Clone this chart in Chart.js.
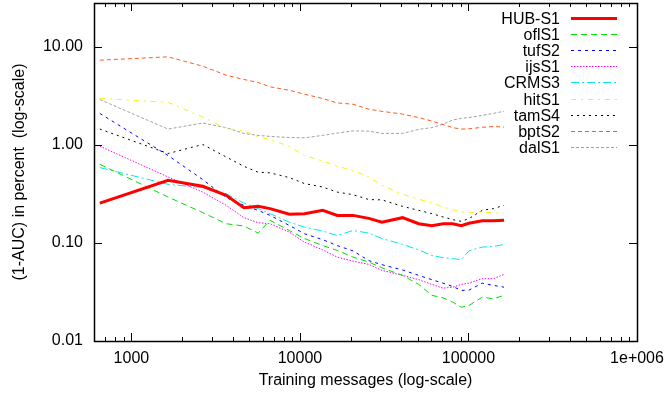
<!DOCTYPE html>
<html>
<head>
<meta charset="utf-8">
<script src="https://cdn.jsdelivr.net/npm/chart.js@4.4.1/dist/chart.umd.min.js"></script>
<style>
  html, body { margin: 0; padding: 0; background: #fff; }
  #wrap { width: 664px; height: 394px; }
</style>
</head>
<body>
<div id="wrap"><canvas id="chart" width="664" height="394"></canvas></div>
<script>
// ── data
const xMessages = [650, 1650, 2650, 3650, 4650, 5650, 6650, 8650, 10650, 13650, 16650, 20650,
  25650, 30650, 40650, 50650, 60650, 70650, 80650, 90650, 100650, 120650, 140650, 162650];

const hubS1  = [0.255, 0.436, 0.378, 0.306, 0.229, 0.236, 0.224, 0.196, 0.199, 0.215, 0.191, 0.191,
  0.178, 0.163, 0.181, 0.157, 0.150, 0.157, 0.157, 0.150, 0.159, 0.168, 0.168, 0.170];
const oflS1  = [0.634, 0.294, 0.204, 0.157, 0.149, 0.126, 0.170, 0.134, 0.111, 0.094, 0.084, 0.0717,
  0.0638, 0.0558, 0.0467, 0.0378, 0.0292, 0.0276, 0.0249, 0.0221, 0.0230, 0.0280, 0.0270, 0.0292];
const tufS2  = [2.09, 0.78, 0.443, 0.29, 0.242, 0.215, 0.191, 0.151, 0.124, 0.108, 0.094, 0.083,
  0.066, 0.060, 0.053, 0.0467, 0.0422, 0.0389, 0.0360, 0.0328, 0.033, 0.0389, 0.0369, 0.0354];
const ijsS1  = [0.97, 0.471, 0.33, 0.242, 0.181, 0.161, 0.157, 0.129, 0.102, 0.085, 0.0717, 0.0653,
  0.0604, 0.0525, 0.0467, 0.0422, 0.0378, 0.0346, 0.0354, 0.0378, 0.0389, 0.0432, 0.0432, 0.0478];
const crmsS3 = [0.587, 0.396, 0.367, 0.318, 0.255, 0.224, 0.199, 0.163, 0.145, 0.132, 0.119, 0.134,
  0.126, 0.111, 0.0966, 0.085, 0.0746, 0.0708, 0.0692, 0.0676, 0.083, 0.0908, 0.092, 0.0966];
const hitS1  = [2.99, 2.71, 1.93, 1.47, 1.39, 1.21, 1.13, 0.97, 0.78, 0.685, 0.605, 0.55,
  0.47, 0.387, 0.313, 0.279, 0.258, 0.232, 0.219, 0.207, 0.204, 0.207, 0.202, 0.202];
const tamS4  = [1.45, 0.816, 1.01, 0.753, 0.605, 0.526, 0.519, 0.464, 0.403, 0.372, 0.330, 0.311,
  0.277, 0.275, 0.236, 0.215, 0.199, 0.184, 0.173, 0.166, 0.177, 0.215, 0.224, 0.242];
const bptS2  = [7.31, 7.91, 6.35, 5.14, 4.65, 4.33, 3.91, 3.61, 3.29, 2.97, 2.68, 2.60,
  2.31, 2.20, 2.06, 1.90, 1.75, 1.61, 1.50, 1.45, 1.46, 1.51, 1.54, 1.52];
const dalS1  = [2.90, 1.45, 1.67, 1.50, 1.31, 1.25, 1.22, 1.19, 1.18, 1.25, 1.32, 1.39,
  1.38, 1.31, 1.31, 1.44, 1.50, 1.63, 1.79, 1.87, 1.90, 2.00, 2.10, 2.20];

const xTickVals = [1000, 10000, 100000, 1000000];
const yTickVals = [0.01, 0.1, 1, 10];

// ── series styling
const series = [
  { label: 'HUB-S1', data: hubS1,  color: '#ff0000', width: 3, dash: [] },
  { label: 'oflS1',  data: oflS1,  color: '#00dd00', width: 1, dash: [6, 4] },
  { label: 'tufS2',  data: tufS2,  color: '#0000ff', width: 1, dash: [3, 4] },
  { label: 'ijsS1',  data: ijsS1,  color: '#ff00ff', width: 1, dash: [1.5, 1.5] },
  { label: 'CRMS3',  data: crmsS3, color: '#00e8e8', width: 1, dash: [8, 3, 2, 3] },
  { label: 'hitS1',  data: hitS1,  color: '#f4f400', width: 1, dash: [5, 5, 2, 5] },
  { label: 'tamS4',  data: tamS4,  color: '#000000', width: 1, dash: [2, 4] },
  { label: 'bptS2',  data: bptS2,  color: '#ff5a20', width: 1, dash: [4, 3] },
  { label: 'dalS1',  data: dalS1,  color: '#a0a0a0', width: 1, dash: [3, 2] },
];

const FONT = '"Liberation Sans", Arial, sans-serif';
Chart.defaults.font.family = FONT;
Chart.defaults.font.size = 16;
Chart.defaults.color = '#000';

// frame with inward ticks, gnuplot style (mirrored on all sides)
const framePlugin = {
  id: 'frame',
  afterDatasetsDraw(chart) {
    const { ctx, chartArea: a, scales } = chart;
    const xs = scales.x, ys = scales.y;
    ctx.save();
    ctx.setLineDash([]);
    ctx.strokeStyle = '#000';
    ctx.lineWidth = 1;
    ctx.beginPath();
    // x ticks, major + minor
    for (let d = 100; d <= 1e6; d *= 10) {
      for (let k = 1; k <= 9; k++) {
        const v = d * k;
        if (v < xs.min || v > xs.max) continue;
        const len = k === 1 ? 8 : 4;
        const px = Math.round(xs.getPixelForValue(v)) + 0.5;
        ctx.moveTo(px, a.bottom); ctx.lineTo(px, a.bottom - len);
        ctx.moveTo(px, a.top); ctx.lineTo(px, a.top + len);
      }
    }
    yTickVals.forEach(v => {
      const py = Math.round(ys.getPixelForValue(v)) + 0.5;
      ctx.moveTo(a.left, py); ctx.lineTo(a.left + 8, py);
      ctx.moveTo(a.right, py); ctx.lineTo(a.right - 8, py);
    });
    ctx.stroke();
    ctx.lineWidth = 1.5;
    ctx.strokeRect(Math.round(a.left) + 0.5, Math.round(a.top) + 0.5,
      Math.round(a.right - a.left), Math.round(a.bottom - a.top));
    ctx.restore();
  }
};

// key in the top right corner: text right-aligned, sample line after it
const keyPlugin = {
  id: 'key',
  afterDraw(chart) {
    const { ctx } = chart;
    ctx.save();
    ctx.font = '16px ' + FONT;
    ctx.textAlign = 'right';
    ctx.textBaseline = 'middle';
    series.forEach((s, i) => {
      const y = Math.round(18 + i * 16.1) + 0.5;
      ctx.fillStyle = '#000';
      ctx.fillText(s.label, 560, y + 1);
      ctx.beginPath();
      ctx.strokeStyle = s.color;
      ctx.lineWidth = s.width;
      ctx.setLineDash(s.dash);
      ctx.moveTo(571, y);
      ctx.lineTo(617, y);
      ctx.stroke();
    });
    ctx.restore();
  }
};

new Chart(document.getElementById('chart'), {
  type: 'line',
  data: {
    datasets: series.map(s => ({
      label: s.label,
      data: xMessages.map((x, i) => ({ x: x, y: s.data[i] })),
      borderColor: s.color,
      borderWidth: s.width,
      borderDash: s.dash,
      pointRadius: 0,
      tension: 0,
      fill: false,
    })),
  },
  options: {
    responsive: false,
    animation: false,
    layout: { padding: { top: 3, right: 27, left: 0, bottom: 0 } },
    plugins: { legend: { display: false }, tooltip: { enabled: false } },
    scales: {
      x: {
        type: 'logarithmic',
        min: 600, max: 1000000,
        grid: { display: false, drawTicks: false },
        border: { display: false },
        ticks: {
          autoSkip: false, maxRotation: 0, padding: 8,
          callback: v => v === 1000000 ? '1e+006' : String(v),
        },
        afterBuildTicks: s => { s.ticks = xTickVals.map(v => ({ value: v })); },
        afterFit: s => { s.height = 53; s.paddingLeft = 0; s.paddingRight = 0; },
        title: { display: true, text: 'Training messages (log-scale)', padding: { top: 0, bottom: 4 } },
      },
      y: {
        type: 'logarithmic',
        min: 0.01, max: 28,
        grid: { display: false, drawTicks: false },
        border: { display: false },
        ticks: { autoSkip: false, padding: 11, callback: v => Number(v).toFixed(2) },
        afterBuildTicks: s => { s.ticks = yTickVals.map(v => ({ value: v })); },
        afterFit: s => { s.width = 94; s.paddingTop = 0; s.paddingBottom = 0; },
        title: { display: true, text: '(1-AUC) in percent  (log-scale)', padding: { top: 10, bottom: 0 } },
      },
    },
  },
  plugins: [framePlugin, keyPlugin],
});
</script>
</body>
</html>
